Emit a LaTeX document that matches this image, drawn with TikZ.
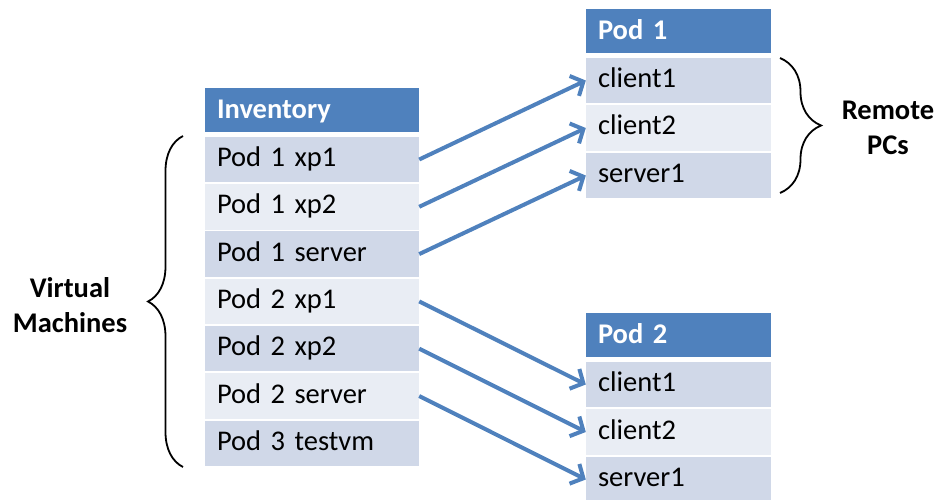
\documentclass[tikz,border=0pt]{standalone}
\usepackage{fontspec}
\setmainfont{Carlito}
\usetikzlibrary{arrows.meta,decorations.pathreplacing}
\definecolor{hdblue}{HTML}{4F81BD}
\definecolor{rowdark}{HTML}{D0D8E8}
\definecolor{rowlight}{HTML}{E9EDF4}

\begin{document}
\begin{tikzpicture}[x=1pt,y=-1pt,
      every node/.style={font=\fontsize{28.5pt}{35pt}\selectfont},
      cell/.style={inner xsep=12pt,inner ysep=0pt,align=left,
        text height=20pt,text depth=6pt,minimum height=45.5pt},
      invbox/.style={cell,text width=190pt},
      podbox/.style={cell,text width=161pt},
      hdr/.style={fill=hdblue,text=white,minimum height=44pt,
        text height=21pt,text depth=4pt,
        font=\fontsize{28.5pt}{35pt}\selectfont\bfseries},
      dark/.style={fill=rowdark},
      light/.style={fill=rowlight},
      link/.style={draw=hdblue,line width=4pt,
        -{Straight Barb[length=10pt,width=22pt]}},
      brace/.style={draw,line width=1.8pt,
        decoration={brace,amplitude=#1},decorate},
      note/.style={align=center,
        font=\fontsize{28.5pt}{35pt}\selectfont\bfseries}]
    \useasboundingbox (0,0) rectangle (940,500);
    % inventory
    \node[invbox,hdr]   (inv)  at (312,110)   {Inventory};
    \node[invbox,dark]  (inv1) at (312,159.5) {Pod 1 xp1};
    \node[invbox,light] (inv2) at (312,206.8) {Pod 1 xp2};
    \node[invbox,dark]  (inv3) at (312,254.1) {Pod 1 server};
    \node[invbox,light] (inv4) at (312,301.4) {Pod 2 xp1};
    \node[invbox,dark]  (inv5) at (312,348.7) {Pod 2 xp2};
    \node[invbox,light] (inv6) at (312,396)   {Pod 2 server};
    \node[invbox,dark]  (inv7) at (312,443.3) {Pod 3 testvm};
    % pod 1
    \node[podbox,hdr]   (pa)  at (678.5,31)    {Pod 1};
    \node[podbox,dark]  (pa1) at (678.5,80.5)  {client1};
    \node[podbox,light] (pa2) at (678.5,128)   {client2};
    \node[podbox,dark]  (pa3) at (678.5,175.5) {server1};
    % pod 2
    \node[podbox,hdr]   (pb)  at (678.5,335)   {Pod 2};
    \node[podbox,dark]  (pb1) at (678.5,384.5) {client1};
    \node[podbox,light] (pb2) at (678.5,432)   {client2};
    \node[podbox,dark]  (pb3) at (678.5,479.5) {server1};
    % arrows
    \draw[link] (inv1.east) -- (pa1.west);
    \draw[link] (inv2.east) -- (pa2.west);
    \draw[link] (inv3.east) -- (pa3.west);
    \draw[link] (inv4.east) -- (pb1.west);
    \draw[link] (inv5.east) -- (pb2.west);
    \draw[link] (inv6.east) -- (pb3.west);
    % braces
    \coordinate (vmtop) at (183,136);
    \coordinate (vmbot) at (183,467);
    \coordinate (pctop) at (780,58);
    \coordinate (pcbot) at (780,193);
    \draw[brace=35pt] (vmbot) -- (vmtop);
    \draw[brace=41pt] (pctop) -- (pcbot);
    \node[note] (vm) at (70,305)  {Virtual\\Machines};
    \node[note] (pc) at (888,128) {Remote\\PCs};
  \end{tikzpicture}
\end{document}
